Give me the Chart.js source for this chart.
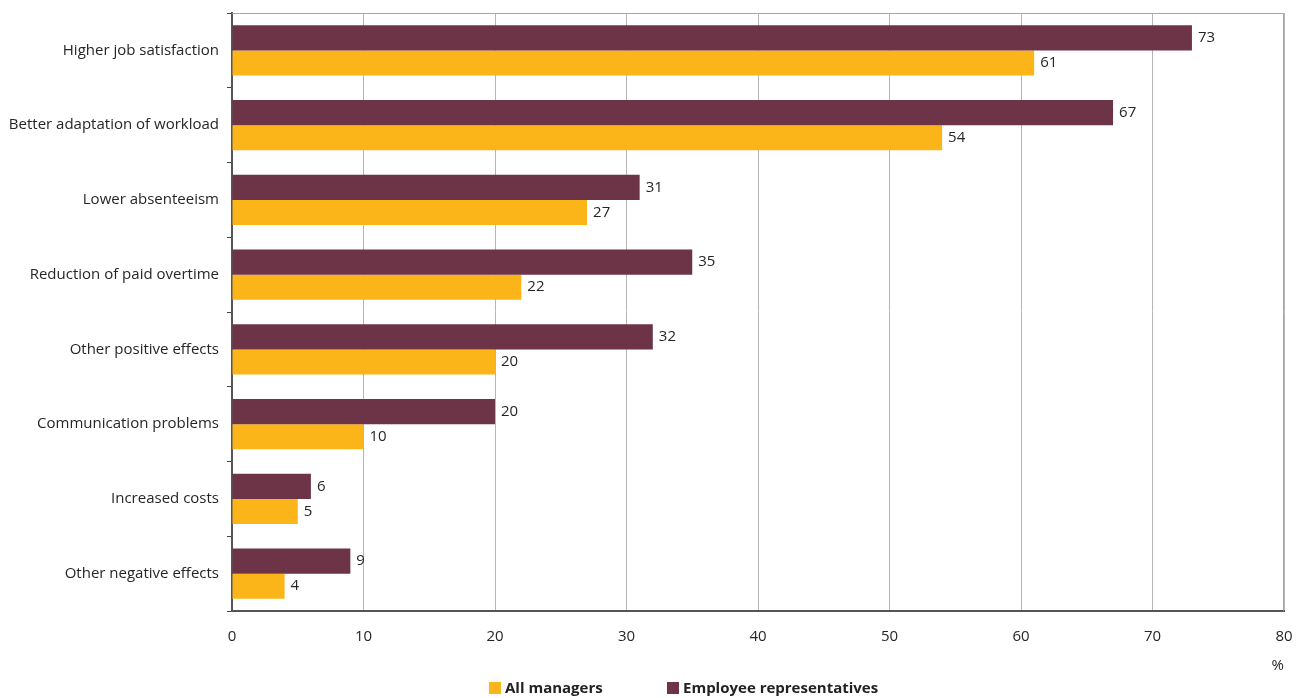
<!DOCTYPE html>
<html>
<head>
<meta charset="utf-8">
<script src="https://cdn.jsdelivr.net/npm/chart.js@4"></script>
<style>
  html, body { margin: 0; padding: 0; background: #fff; }
  #wrap { position: relative; width: 1304px; height: 698px; }
  #legend { position: absolute; top: 677px; left: 0; width: 1304px; font: bold 15px "Open Sans", sans-serif; color: #222; }
  #legend span { position: absolute; white-space: nowrap; }
  #legend i { display: inline-block; width: 12px; height: 12px; margin-right: 4px; vertical-align: -1px; }
</style>
</head>
<body>
<div id="wrap">
  <canvas id="chart" width="1304" height="698"></canvas>
  <div id="legend">
    <span style="left:489px"><i style="background:#fbb519"></i>All managers</span>
    <span style="left:667px"><i style="background:#6d3447"></i>Employee representatives</span>
  </div>
</div>
<script>
// Effects of flexible working time, % of respondents
const categories = [
  "Higher job satisfaction",
  "Better adaptation of workload",
  "Lower absenteeism",
  "Reduction of paid overtime",
  "Other positive effects",
  "Communication problems",
  "Increased costs",
  "Other negative effects",
];
const employeeReps = [73, 67, 31, 35, 32, 20, 6, 9];
const allManagers = [61, 54, 27, 22, 20, 10, 5, 4];
const xTicks = [0, 10, 20, 30, 40, 50, 60, 70, 80];

const MAROON = "#6d3447";
const AMBER = "#fbb519";
const FONT = '"Open Sans", sans-serif';
const TEXT = "#262626";

Chart.defaults.font.family = FONT;
Chart.defaults.color = TEXT;

// gray frame on top/right of the plot area
const frame = {
  id: "frame",
  beforeDatasetsDraw(chart) {
    const { ctx, chartArea: a } = chart;
    ctx.save();
    ctx.strokeStyle = "#a5a5a5";
    ctx.lineWidth = 1;
    ctx.beginPath();
    ctx.moveTo(a.left, a.top + 0.5);
    ctx.lineTo(a.right - 0.5, a.top + 0.5);
    ctx.lineTo(a.right - 0.5, a.bottom);
    ctx.stroke();
    ctx.restore();
  },
};

// value labels at the end of each bar
const valueLabels = {
  id: "valueLabels",
  afterDatasetsDraw(chart) {
    const { ctx } = chart;
    ctx.save();
    ctx.font = "15px " + FONT;
    ctx.fillStyle = TEXT;
    ctx.textBaseline = "middle";
    chart.data.datasets.forEach((ds, i) => {
      chart.getDatasetMeta(i).data.forEach((bar, j) => {
        ctx.fillText(String(ds.data[j]), bar.x + 6, bar.y);
      });
    });
    ctx.restore();
  },
};

// fixed scale sizes so the plot area stays put
function fitX(s) {
  s.height = 87;
  s.paddingLeft = 0;
  s.paddingRight = 0;
}
function fitY(s) {
  s.width = 232;
  s.paddingTop = 0;
  s.paddingBottom = 0;
}

new Chart(document.getElementById("chart"), {
  type: "bar",
  data: {
    labels: categories,
    datasets: [
      { label: "Employee representatives", data: employeeReps, backgroundColor: MAROON },
      { label: "All managers", data: allManagers, backgroundColor: AMBER },
    ],
  },
  plugins: [frame, valueLabels],
  options: {
    indexAxis: "y",
    responsive: false,
    animation: false,
    events: [],
    layout: { padding: { top: 13, right: 20, left: 0, bottom: 0 } },
    datasets: { bar: { categoryPercentage: 0.67, barPercentage: 1 } },
    scales: {
      x: {
        min: 0,
        max: 80,
        afterBuildTicks: (s) => { s.ticks = xTicks.map((v) => ({ value: v })); },
        afterFit: fitX,
        grid: { color: "#b5b5b5", drawTicks: false },
        border: { color: "#555", width: 2 },
        ticks: { padding: 17, font: { size: 15 }, color: TEXT },
        title: { display: true, text: "%", align: "end", font: { size: 15 }, color: TEXT, padding: { bottom: 23 } },
      },
      y: {
        afterFit: fitY,
        grid: { drawOnChartArea: false, tickLength: 5, color: "#444" },
        border: { color: "#555", width: 2 },
        ticks: { padding: 8, font: { size: 15 }, color: TEXT },
      },
    },
    plugins: {
      legend: { display: false },
      tooltip: { enabled: false },
    },
  },
});
</script>
</body>
</html>
